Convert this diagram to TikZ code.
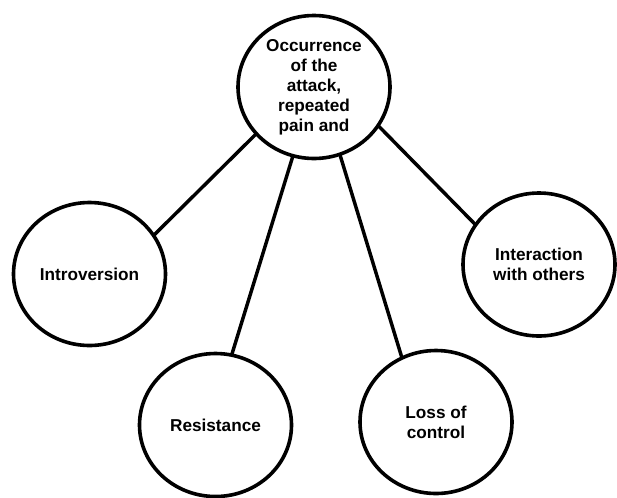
\documentclass[tikz,border=0pt]{standalone}
\usepackage{fontspec}
\setmainfont{Liberation Sans}
\usetikzlibrary{shapes.geometric}

\begin{document}
\begin{tikzpicture}[x=0.75pt,y=-0.75pt,
		bubble/.style={draw,ellipse,line width=2.7pt,inner sep=0pt,outer sep=0pt,
			minimum width=152*0.75pt,minimum height=143*0.75pt,align=center,
			font=\fontsize{12.9}{15}\selectfont\bfseries},
		link/.style={line width=2.6pt}]

			\useasboundingbox (0,0) rectangle (617,497);

			% Centre circle
			\node[bubble] (occ) at (314,87) {Occurrence\\of the\\attack,\\repeated\\pain and};

			% Outer circles
			\node[bubble] (intro) at (89.5,274) {Introversion};
			\node[bubble] (resist) at (215.5,425) {Resistance};
			\node[bubble] (loss) at (436,422) {Loss of\\control};
			\node[bubble] (inter) at (539,264.5) {Interaction\\with others};

			% Connecting lines
			\draw[link] (occ.219) -- (intro.31);
			\draw[link] (occ.253) -- (resist.77);
			\draw[link] (occ.291) -- (loss.118);
			\draw[link] (occ.329) -- (inter.148);

		\end{tikzpicture}
\end{document}
